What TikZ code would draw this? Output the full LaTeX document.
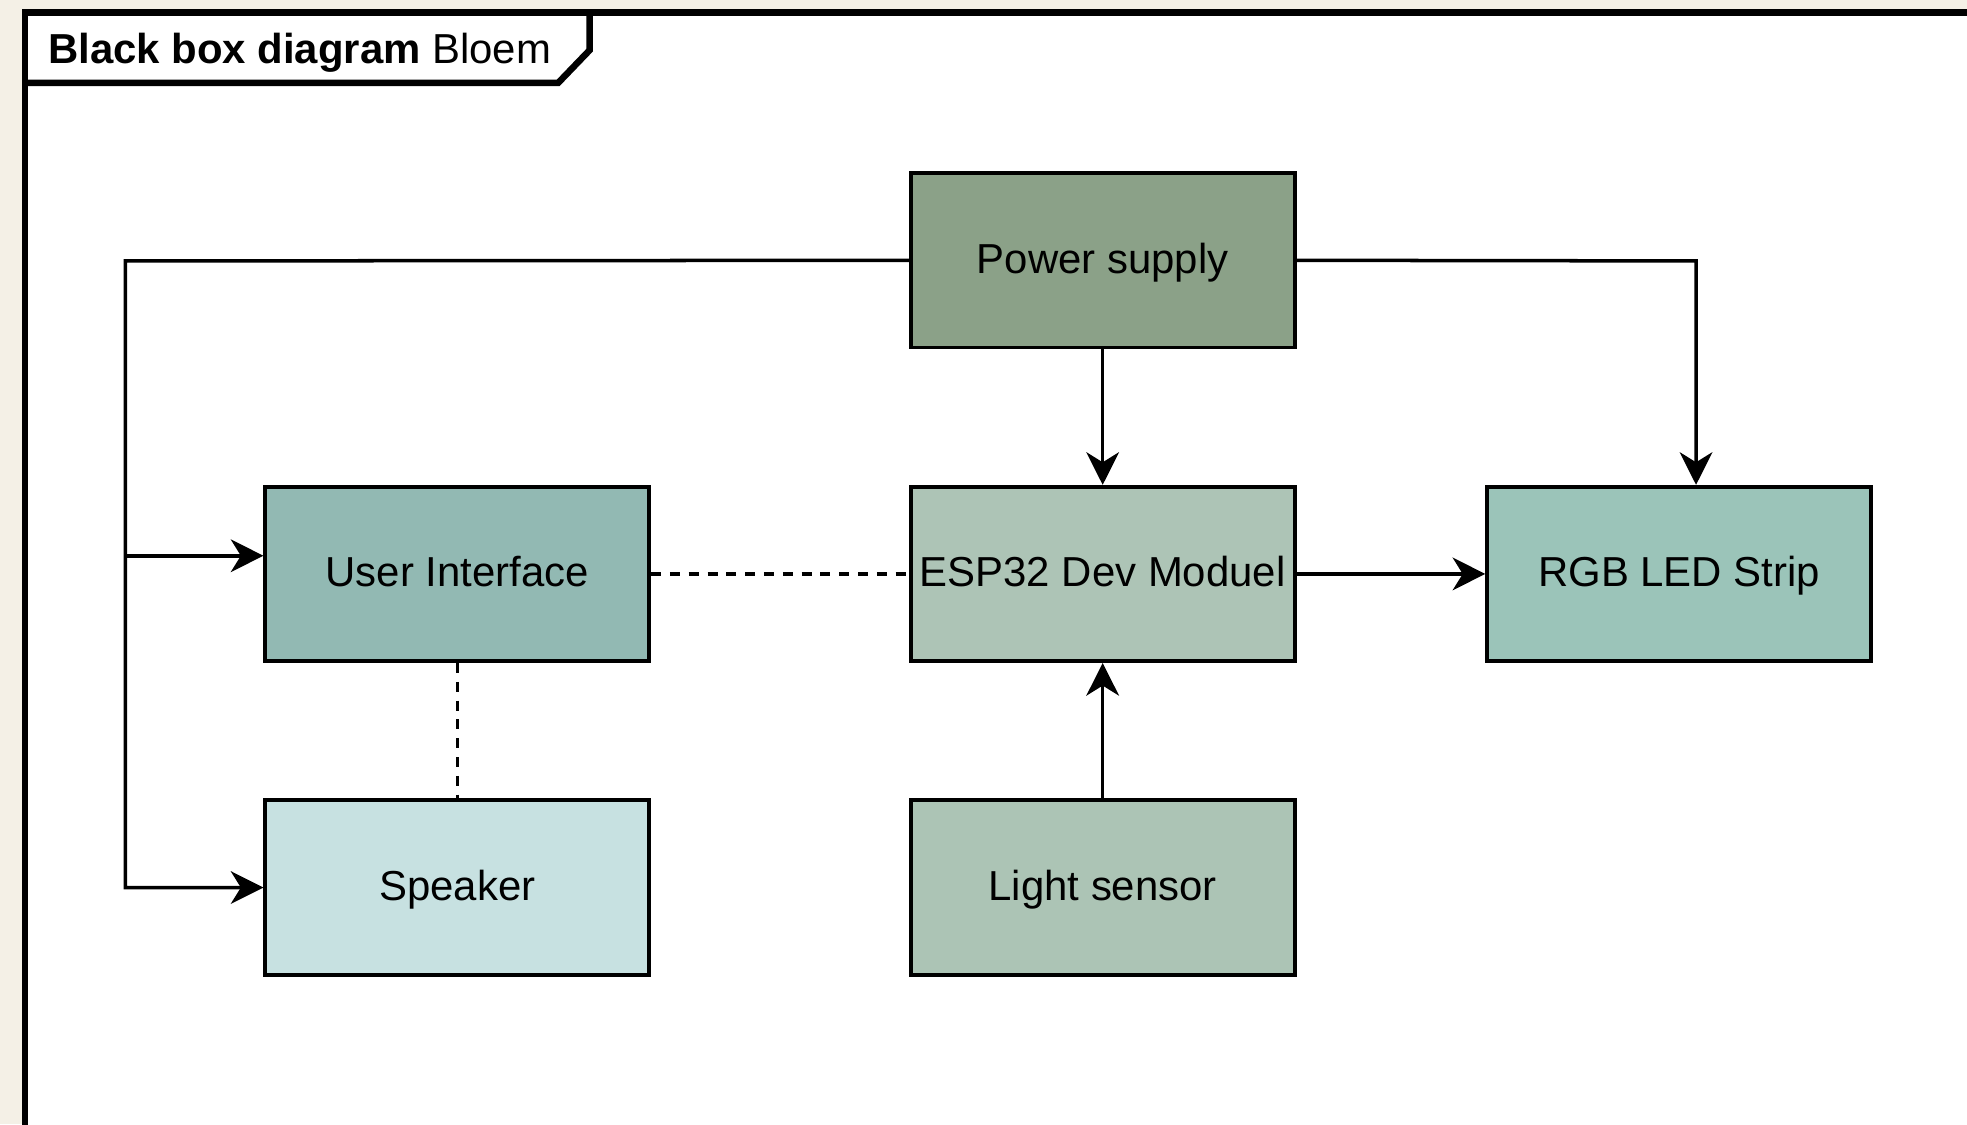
\documentclass[tikz,border=0pt]{standalone}
\usepackage{fontspec}
\setmainfont{Liberation Sans}
\usetikzlibrary{arrows.meta}
\definecolor{bgbeige}{HTML}{F4F0E6}
\definecolor{cpower}{HTML}{8BA188}
\definecolor{cui}{HTML}{92B9B3}
\definecolor{cesp}{HTML}{ADC4B6}
\definecolor{crgb}{HTML}{9BC4B9}
\definecolor{cspk}{HTML}{C7E1E1}
\definecolor{clight}{HTML}{ACC4B5}
\tikzset{
  blockbox/.style={draw=black, line width=1.5pt, minimum width=153pt, minimum height=69.5pt,
    inner sep=0pt, text height=13.5pt, text depth=3.2pt,
    font=\fontsize{16.7}{20}\selectfont, text=black},
  arr/.style={line width=1.4pt, -{Stealth[length=13pt, width=13pt, inset=4pt]}},
  dashline/.style={line width=1.4pt, dash pattern=on 4pt off 3.5pt},
  frameline/.style={line width=2.6pt, line join=miter}
}
\begin{document}
\begin{tikzpicture}[x=0.5pt, y=-0.5pt]
\useasboundingbox (0,0) rectangle (1568,896);
% background
\fill[bgbeige] (0,0) rectangle (1568,896);
\fill[white] (20,10) rectangle (1580,906);
% frame
\draw[frameline] (20,910) -- (20,10) -- (1580,10);
\draw[frameline] (20,10) -- (470,10) -- (470,40) -- (445,66) -- (20,66);
\node[anchor=west, inner sep=0pt, font=\fontsize{16.7}{20}\selectfont] (title) at (38,42) {\textbf{Black box diagram} Bloem};
% blocks
\node[blockbox, fill=cpower] (power) at (879,207.5) {Power supply};
\node[blockbox, fill=cui] (ui) at (364.5,457.5) {User Interface};
\node[blockbox, fill=cesp] (esp) at (879,457.5) {ESP32 Dev Moduel};
\node[blockbox, fill=crgb] (rgb) at (1338.5,457.5) {RGB LED Strip};
\node[blockbox, fill=cspk] (spk) at (364.5,707.5) {Speaker};
\node[blockbox, fill=clight] (light) at (879,707.5) {Light sensor};
% connectors
\coordinate (bus) at (100,208);
\coordinate (uij) at (100,443);
\coordinate (rgbx) at (1352,208);
\draw[arr] (power.west) -- (bus) |- (spk.west);
\draw[arr] (uij) -- (ui.west |- uij);
\draw[arr] (power.south) -- (esp.north);
\draw[arr] (power.east) -- (rgbx) -- (rgbx |- rgb.north);
\draw[arr] (esp.east) -- (rgb.west);
\draw[arr] (light.north) -- (esp.south);
\draw[dashline] (ui.east) -- (esp.west);
\draw[dashline] (ui.south) -- (spk.north);
\end{tikzpicture}
\end{document}
